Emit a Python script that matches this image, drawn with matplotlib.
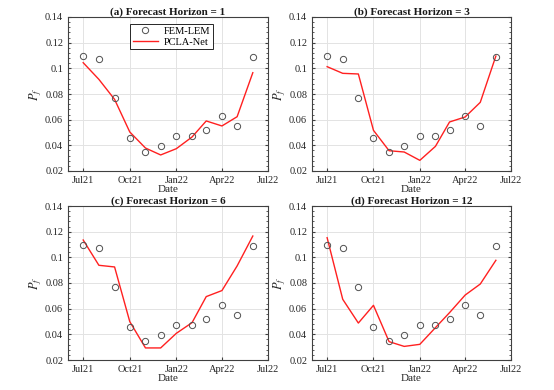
import matplotlib
matplotlib.use("Agg")
import matplotlib.pyplot as plt
import matplotlib.dates as mdates
from matplotlib.ticker import AutoMinorLocator
import numpy as np

months = np.array(["2021-07", "2021-08", "2021-09", "2021-10", "2021-11", "2021-12",
                   "2022-01", "2022-02", "2022-03", "2022-04", "2022-05", "2022-06"],
                  dtype="datetime64[M]").astype("datetime64[D]")

fem_lem = [0.1100, 0.1073, 0.0769, 0.0457, 0.0351, 0.0397,
           0.0470, 0.0475, 0.0522, 0.0629, 0.0548, 0.1086]

pcla_h1 = [0.1044, 0.0914, 0.0758, 0.0504, 0.0379, 0.0325,
           0.0374, 0.0465, 0.0590, 0.0551, 0.0623, 0.0966]
pcla_h3 = [0.1013, 0.0961, 0.0956, 0.0517, 0.0358, 0.0348,
           0.0283, 0.0392, 0.0582, 0.0621, 0.0735, 0.1096]
pcla_h6 = [0.1135, 0.0938, 0.0925, 0.0499, 0.0294, 0.0294,
           0.0408, 0.0491, 0.0694, 0.0741, 0.0933, 0.1166]
pcla_h12 = [0.1153, 0.0673, 0.0488, 0.0626, 0.0343, 0.0306,
            0.0322, 0.0452, 0.0569, 0.0706, 0.0792, 0.0977]

titles = ["(a) Forecast Horizon = 1", "(b) Forecast Horizon = 3",
          "(c) Forecast Horizon = 6", "(d) Forecast Horizon = 12"]
series = [pcla_h1, pcla_h3, pcla_h6, pcla_h12]

plt.rcParams["font.family"] = ["Liberation Serif", "DejaVu Serif"]
plt.rcParams["font.size"] = 7.5
plt.rcParams["mathtext.fontset"] = "stix"

W, H = 554, 390
fig = plt.figure(figsize=(W / 100, H / 100), dpi=100)

# axes boxes in pixels: left, top, right, bottom
boxes = [(68, 17, 268, 171), (312, 17, 511, 171),
         (68, 206, 268, 360), (312, 206, 511, 360)]

axis_col = "#404040"
for i, (l, t, r, b) in enumerate(boxes):
    ax = fig.add_axes([l / W, 1 - b / H, (r - l) / W, (b - t) / H])
    ax.plot(months, fem_lem, "o", mfc="none", mec="#505050", ms=4.5, mew=0.7,
            label="FEM-LEM", zorder=3)
    ax.plot(months, series[i], color="#ff2020", lw=1.0, label="PCLA-Net", zorder=2)

    ax.set_xlim(np.datetime64("2021-06-01"), np.datetime64("2022-07-01"))
    ax.set_ylim(0.02, 0.14)
    ax.set_yticks([0.02, 0.04, 0.06, 0.08, 0.1, 0.12, 0.14])
    ax.set_yticklabels(["0.02", "0.04", "0.06", "0.08", "0.1", "0.12", "0.14"])
    ax.yaxis.set_minor_locator(AutoMinorLocator(5))
    ax.xaxis.set_major_locator(mdates.MonthLocator(bymonth=[1, 4, 7, 10]))
    ax.xaxis.set_major_formatter(mdates.DateFormatter("%b%y"))

    ax.grid(True, color="#e3e3e3", lw=0.7, zorder=0)
    ax.set_axisbelow(True)
    ax.tick_params(which="both", direction="in", top=False, right=True,
                   colors=axis_col, labelcolor="#262626", length=2.5)
    ax.tick_params(which="minor", length=1.5)
    ax.tick_params(axis="x", pad=3.5)
    for s in ax.spines.values():
        s.set_color(axis_col)
        s.set_linewidth(0.8)

    ax.set_title(titles[i], fontweight="bold", fontsize=8, pad=1.5, color="#1a1a1a")
    ax.set_xlabel("Date", fontsize=8, labelpad=0, color="#262626")
    ax.set_ylabel(r"$P_f$", fontsize=9, labelpad=1, color="#262626")

    if i == 0:
        leg = ax.legend(loc="upper left", bbox_to_anchor=(0.31, 0.955), fontsize=7.5,
                        fancybox=False, edgecolor="#262626", framealpha=1,
                        borderpad=0.25, labelspacing=0.15, handlelength=2.4,
                        handletextpad=0.6, borderaxespad=0)
        leg.get_frame().set_linewidth(0.7)

fig.savefig("out.png", dpi=100)
